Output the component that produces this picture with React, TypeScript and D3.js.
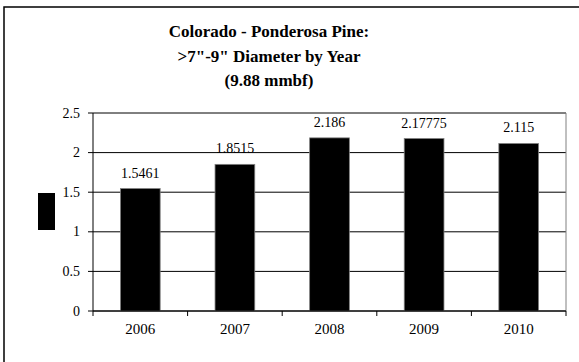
import React from "react";
import * as d3 from "d3";

const categories = ["2006", "2007", "2008", "2009", "2010"];
const values = [1.5461, 1.8515, 2.186, 2.17775, 2.115];
const valueLabels = ["1.5461", "1.8515", "2.186", "2.17775", "2.115"];
const yTicks = [0, 0.5, 1, 1.5, 2, 2.5];
const yTickLabels = ["0", "0.5", "1", "1.5", "2", "2.5"];
const titleLines = ["Colorado - Ponderosa Pine:", ">7\"-9\" Diameter by Year", "(9.88 mmbf)"];

export default function App() {
  const W = 579, H = 362;
  const left = 93, right = 566, top = 113, bottom = 311;
  const x = d3.scaleBand<string>().domain(categories).range([left, right]).paddingInner(0.58).paddingOuter(0.29);
  const xb = d3.scaleBand<string>().domain(categories).range([left, right]);
  const y = d3.scaleLinear().domain([0, 2.5]).range([bottom, top]);
  const fs = { fontFamily: "Liberation Serif, Times New Roman, serif" };
  return (
    <svg width={W} height={H} style={{ position: "absolute", left: 0, top: 0, background: "#fff" }}>
      <rect x={4} y={7} width={W + 20} height={H + 20} fill="#fff" stroke="#000" strokeWidth={1.5} />
      {titleLines.map((t, i) => (
        <text key={i} x={269} y={37 + i * 24.5} textAnchor="middle" style={fs} fontWeight="bold" fontSize={17}>
          {t}
        </text>
      ))}
      {yTicks.map((v, i) => (
        <g key={i}>
          <line x1={left - 5} x2={right} y1={y(v)} y2={y(v)} stroke="#000" strokeWidth={1} />
          <text x={80} y={y(v) + 4.5} textAnchor="end" style={fs} fontSize={14}>
            {yTickLabels[i]}
          </text>
        </g>
      ))}
      <line x1={left} x2={left} y1={top} y2={bottom} stroke="#000" />
      <line x1={right} x2={right} y1={top} y2={bottom} stroke="#808080" />
      {categories.map((c, i) => (
        <g key={c}>
          <rect x={x(c)} y={y(values[i])} width={x.bandwidth()} height={bottom - y(values[i])} fill="#000" stroke="#808080" strokeWidth={0.8} />
          <text x={x(c)! + x.bandwidth() / 2} y={y(values[i]) - 11} textAnchor="middle" style={fs} fontSize={14}>
            {valueLabels[i]}
          </text>
          <text x={xb(c)! + xb.bandwidth() / 2} y={334} textAnchor="middle" style={fs} fontSize={15}>
            {c}
          </text>
        </g>
      ))}
      {[...categories.map((c) => xb(c)!), right].map((px, i) => (
        <line key={i} x1={px} x2={px} y1={bottom} y2={bottom + 5} stroke="#000" />
      ))}
      <line x1={left} x2={right} y1={bottom} y2={bottom} stroke="#000" />
      <rect x={38} y={193} width={17} height={37} fill="#000" />
    </svg>
  );
}
